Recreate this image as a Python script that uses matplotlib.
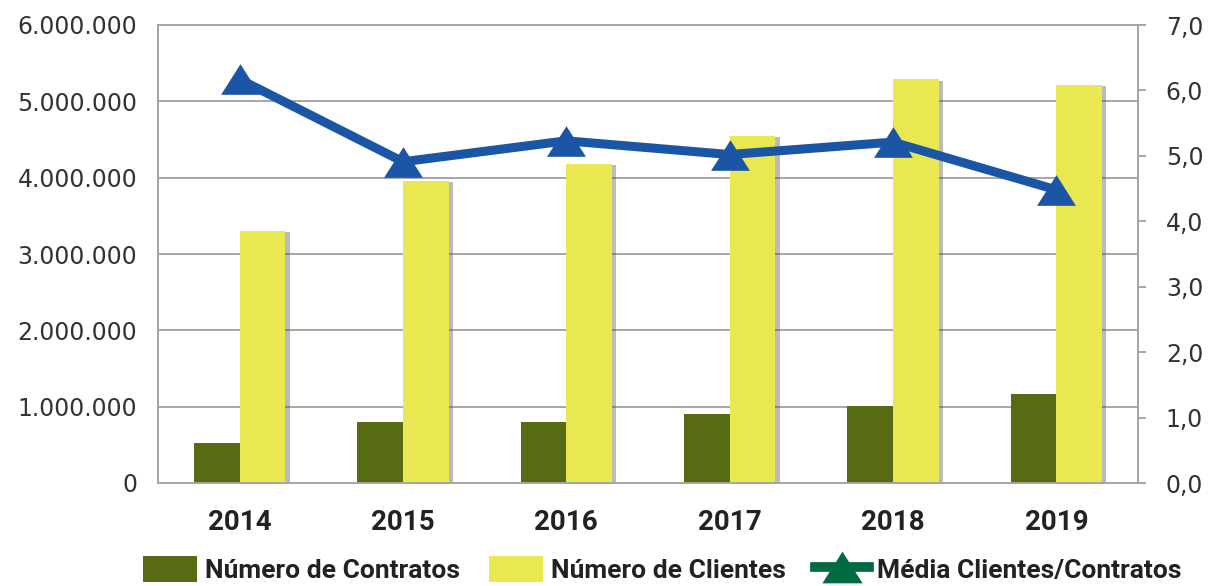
import matplotlib
matplotlib.use("Agg")
import matplotlib.pyplot as plt
import matplotlib.patheffects as pe
from matplotlib.lines import Line2D
from matplotlib.patches import Patch
from matplotlib.ticker import FuncFormatter, MultipleLocator
import numpy as np

years = ["2014", "2015", "2016", "2017", "2018", "2019"]
contratos = [520000, 800000, 800000, 900000, 1010000, 1170000]
clientes = [3300000, 3960000, 4180000, 4550000, 5290000, 5220000]
media = [6.17, 4.91, 5.23, 5.02, 5.21, 4.48]

labels = ["Número de Contratos", "Número de Clientes", "Média Clientes/Contratos"]
c_green = "#566b12"
c_yellow = "#e9e853"
c_blue = "#1a55a6"
c_legend_line = "#006a40"
c_grid = "#a6a6a6"

fig = plt.figure(figsize=(12.11, 5.86), dpi=100)
ax = fig.add_axes([158/1211, 1-483/586, (1138-158)/1211, (483-25)/586])
ax2 = ax.twinx()

x = np.arange(len(years))
w = 0.28
shadow = [pe.SimplePatchShadow(offset=(3, -1), shadow_rgbFace="#555555", alpha=0.4), pe.Normal()]
b1 = ax.bar(x - w/2, contratos, w, color=c_green, zorder=3)
b2 = ax.bar(x + w/2, clientes, w, color=c_yellow, zorder=3)
for b in list(b1) + list(b2):
    b.set_path_effects(shadow)

ax.set_xlim(-0.5, len(years) - 0.5)
ax.set_ylim(0, 6000000)
ax.yaxis.set_major_locator(MultipleLocator(1000000))
ax.yaxis.set_major_formatter(FuncFormatter(lambda v, p: f"{v:,.0f}".replace(",", ".")))
ax.grid(axis="y", color=c_grid, linewidth=1.4, zorder=0)
ax.set_axisbelow(True)
ax.set_xticks(x)
ax.set_xticklabels(years, fontfamily="Roboto", fontweight="bold", fontsize=20, color="#222222")
ax.tick_params(axis="x", length=0, pad=19)
ax.tick_params(axis="y", length=0, pad=15, labelsize=17, labelcolor="#333333")
for s in ax.spines.values():
    s.set_color(c_grid)
    s.set_linewidth(1.4)

tri = [(0, 1), (-1.27, -1), (1.27, -1)]
ax2.plot(x, media, color=c_blue, linewidth=6.5, marker=tri, markersize=28,
         markerfacecolor=c_blue, markeredgewidth=0, zorder=5, solid_joinstyle="miter")
ax2.set_ylim(0, 7)
ax2.yaxis.set_major_locator(MultipleLocator(1))
ax2.yaxis.set_major_formatter(FuncFormatter(lambda v, p: f"{v:.1f}".replace(".", ",")))
ax2.tick_params(axis="y", length=6, width=1.4, color=c_grid, pad=14, labelsize=17, labelcolor="#333333")
for s in ax2.spines.values():
    s.set_color(c_grid)
    s.set_linewidth(1.4)

handles = [
    Patch(facecolor=c_green, edgecolor="none"),
    Patch(facecolor=c_yellow, edgecolor="none"),
    Line2D([0], [0], color=c_legend_line, linewidth=7, marker=tri, markersize=29,
           markerfacecolor=c_legend_line, markeredgewidth=0),
]
leg = fig.legend(handles, labels, loc="upper left", bbox_to_anchor=(143/1211, 1-556/586),
                 ncol=3, frameon=False, borderpad=0, borderaxespad=0,
                 handlelength=2.05, handleheight=1.15, handletextpad=0.3, columnspacing=1.1,
                 prop={"family": "Roboto", "weight": "bold", "size": 19})
for t in leg.get_texts():
    t.set_color("#222222")

fig.savefig("out.png", dpi=100)
